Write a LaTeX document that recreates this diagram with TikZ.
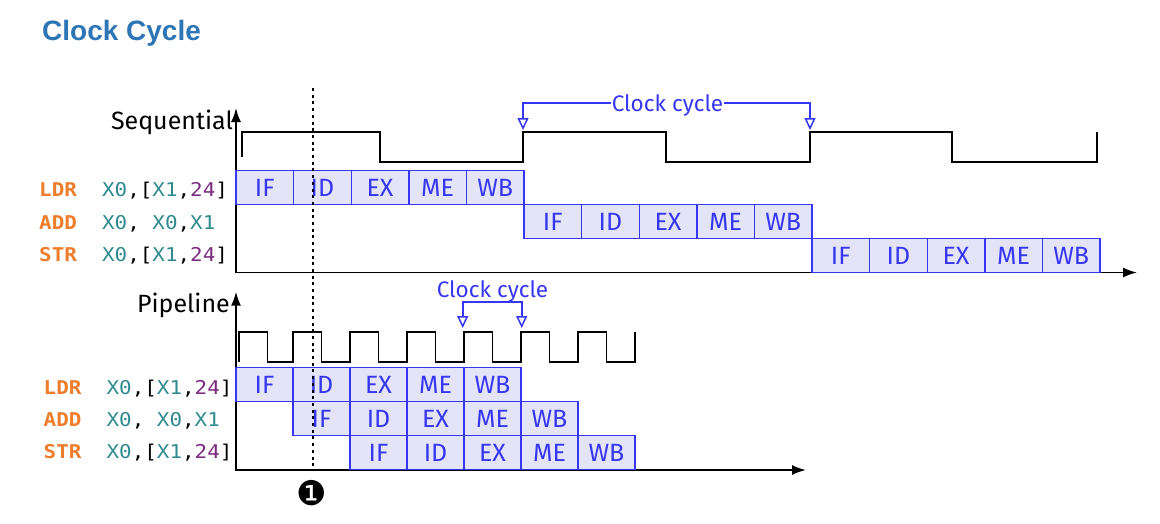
\documentclass[tikz,border=0pt]{standalone}
\usepackage{fontspec}
\setmainfont{Fira Sans}
\newfontfamily\monof[FakeStretch=1.1]{DejaVu Sans Mono}
\newfontfamily\titlef{Liberation Sans}
\newfontfamily\dingf{DejaVu Sans}
\usetikzlibrary{arrows.meta}
\definecolor{titleblue}{HTML}{2E75B6}
\definecolor{stageblue}{HTML}{3636F2}
\definecolor{stagefill}{HTML}{E4E4F8}
\definecolor{opc}{HTML}{EE7D2B}
\definecolor{regc}{HTML}{2F8A8F}
\definecolor{numc}{HTML}{7A2A80}
\newcommand\myop[1]{{\bfseries\color{opc}#1}}
\newcommand\myreg[1]{{\color{regc}#1}}
\newcommand\mynum[1]{{\color{numc}#1}}
\tikzset{
  optri/.tip={Triangle[open,length=12pt,width=11pt,line width=1.5pt]},
  stagebox/.style={draw=stageblue, fill=stagefill, line width=1.4pt, minimum height=34pt,
    inner sep=0pt, text=stageblue, font=\fontsize{25}{27}\selectfont},
  seqbox/.style={stagebox, minimum width=57.6pt},
  pipbox/.style={stagebox, minimum width=57pt},
  axisline/.style={line width=1.8pt, black, {Latex[length=14pt,width=10pt]}-{Latex[length=14pt,width=10pt]}},
  wave/.style={line width=1.8pt, black, line join=miter},
  bracket/.style={line width=1.7pt, stageblue},
  cclabel/.style={text=stageblue, font=\fontsize{22.5}{24}\selectfont, inner sep=1pt, anchor=base},
  instr/.style={font=\monof\fontsize{19}{22}\selectfont, anchor=base west, inner sep=0pt},
  sectlabel/.style={font=\fontsize{25}{27}\selectfont, anchor=base east, inner sep=0pt},
  dotline/.style={line width=1.8pt, dash pattern=on 3pt off 3.7pt}
}
\begin{document}
\begin{tikzpicture}[x=1pt,y=-1pt]
\useasboundingbox (0,0) rectangle (1160,523);
% title
\node[anchor=base west, inner sep=0pt, text=titleblue, font=\titlef\bfseries\fontsize{28}{30}\selectfont] (title) at (42,40) {Clock Cycle};

% ---------- Sequential ----------
\node[sectlabel] (seqlab) at (233,129.3) {Sequential};
\coordinate (sY) at (236,108);
\coordinate (sO) at (236,272.5);
\coordinate (sX) at (1137,272.5);
\draw[axisline] (sY) -- (sO) -- (sX);
\draw[wave] (242,157) -- (242,131.7) -- (380,131.7) -- (380,161.7) -- (523,161.7) -- (523,131.7)
  -- (666,131.7) -- (666,161.7) -- (810,161.7) -- (810,131.7) -- (952,131.7) -- (952,161.7)
  -- (1097,161.7) -- (1097,131.7);
\foreach \st [count=\k from 0] in {IF,ID,EX,ME,WB} {
  \foreach \r in {0,1,2} {
    \node[seqbox] (s\r\k) at ({236+57.6*(5*\r+\k)+28.8},{187.5+34*\r}) {\st};
  }
}
\node[instr] (si0) at (39,196.7) {\myop{LDR}~~\myreg{X0},[\myreg{X1},\mynum{24}]};
\node[instr] (si1) at (39,229.3) {\myop{ADD}~~\myreg{X0},~\myreg{X0},\myreg{X1}};
\node[instr] (si2) at (39,261.7) {\myop{STR}~~\myreg{X0},[\myreg{X1},\mynum{24}]};
% clock cycle bracket
\node[cclabel] (cc1) at (667.5,111.2) {Clock cycle};
\coordinate (l1) at (523,102.7);
\coordinate (r1) at (810,102.7);
\coordinate (cA) at (523,130);
\coordinate (cB) at (810,130);
\draw[bracket, -{optri}] (cc1.west |- l1) -- (l1) -- (cA);
\draw[bracket, -{optri}] (cc1.east |- r1) -- (r1) -- (cB);

% ---------- Pipeline ----------
\node[sectlabel] (piplab) at (230,312) {Pipeline};
\coordinate (pY) at (236,291.7);
\coordinate (pO) at (236,470);
\coordinate (pX) at (806,470);
\draw[axisline] (pY) -- (pO) -- (pX);
\draw[wave] (239,361.7) -- (239,331.7) -- (267.5,331.7) -- (267.5,361.7)
  \foreach \k in {1,...,6} { -- ({236+57*\k},361.7) -- ({236+57*\k},331.7) -- ({264.5+57*\k},331.7) -- ({264.5+57*\k},361.7) }
  -- (635,361.7) -- (635,331.7);
\foreach \st [count=\k from 0] in {IF,ID,EX,ME,WB} {
  \foreach \r in {0,1,2} {
    \node[pipbox] (p\r\k) at ({236+57*(\r+\k)+28.5},{384.5+34*\r}) {\st};
  }
}
\node[instr] (pi0) at (43.5,394.3) {\myop{LDR}~~\myreg{X0},[\myreg{X1},\mynum{24}]};
\node[instr] (pi1) at (43.5,426.7) {\myop{ADD}~~\myreg{X0},~\myreg{X0},\myreg{X1}};
\node[instr] (pi2) at (43.5,458.3) {\myop{STR}~~\myreg{X0},[\myreg{X1},\mynum{24}]};
\node[cclabel] (cc2) at (492.5,297.8) {Clock cycle};
\coordinate (l2) at (462.7,302.3);
\coordinate (r2) at (521.7,302.3);
\coordinate (pA) at (462.7,328);
\coordinate (pB) at (521.7,328);
\draw[bracket, {optri}-{optri}] (pA) -- (l2) -- (r2) -- (pB);

% dotted marker
\coordinate (dTop) at (313,88);
\coordinate (dBot) at (313,468);
\draw[dotline] (dTop) -- (dBot);
\node[font=\dingf\fontsize{34}{36}\selectfont, inner sep=0pt] (mark) at (312,493) {❶};
\end{tikzpicture}
\end{document}
